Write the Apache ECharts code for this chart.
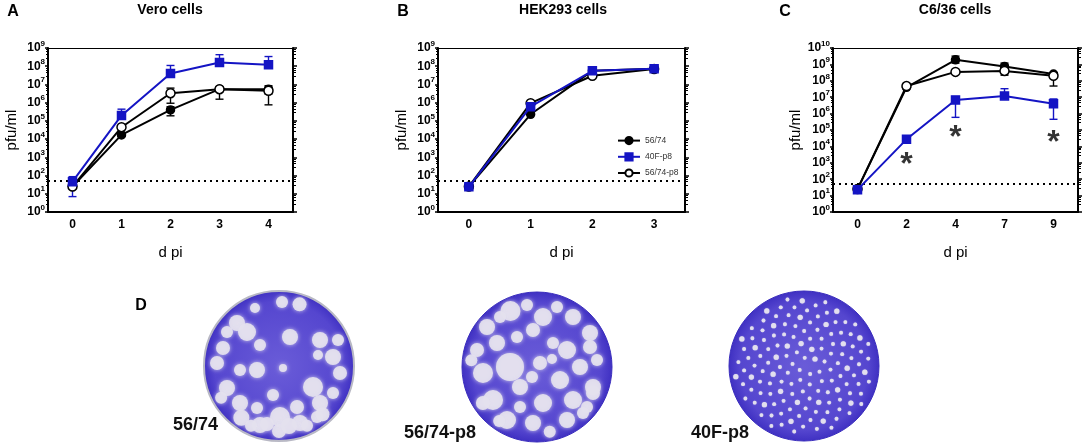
<!DOCTYPE html>
<html><head><meta charset="utf-8">
<script src="https://cdn.jsdelivr.net/npm/echarts@6/dist/echarts.min.js"></script>
<style>html,body{margin:0;padding:0;background:#fff}#c{width:1084px;height:447px}</style>
</head><body><div id="c"></div><script>
// ---------- data ----------
const seriesNames = ['56/74', '40F-p8', '56/74-p8'];
const daysA = ['0', '1', '2', '3', '4'];
const daysB = ['0', '1', '2', '3'];
const daysC = ['0', '2', '4', '7', '9'];
const detectionLimit = 50;

// Panel A: Vero cells (pfu/ml)
const veroWT      = [25, 1.7e4, 4e5, 5.5e6, 5.5e6];
const veroWTLow   = [25, 1.4e4, 1.9e5, 1.55e6, 3e6];
const veroWTHigh  = [25, 2e4, 6e5, 7.5e6, 8.5e6];
const veroF       = [46, 2e5, 4e7, 1.6e8, 1.2e8];
const veroFLow    = [7, 1.5e5, 3e7, 1.2e8, 1e8];
const veroFHigh   = [87, 4.4e5, 1.1e8, 4.3e8, 3.4e8];
const veroP8      = [25, 4.5e4, 3.3e6, 5.5e6, 4.5e6];
const veroP8Low   = [25, 4e4, 9.3e5, 4e6, 7.6e5];
const veroP8High  = [25, 5e4, 6.3e6, 6.5e6, 7e6];

// Panel B: HEK293 cells
const hekWT  = [25, 2.3e5, 5.6e7, 7.2e7];
const hekF   = [24, 6e5, 5.6e7, 7.2e7];
const hekP8  = [25, 9.4e5, 3e7, 7e7];

// Panel C: C6/36 cells
const c636WT      = [25, 4e7, 1.9e9, 7.5e8, 2.6e8];
const c636WTLow   = [25, 3.5e7, 1.2e9, 5.5e8, 2.2e8];
const c636WTHigh  = [25, 5e7, 3.2e9, 1.2e9, 3.2e8];
const c636F       = [23, 2.7e4, 6.7e6, 1.2e7, 4e6];
const c636FLow    = [23, 2.3e4, 5.9e5, 9e6, 4.5e5];
const c636FHigh   = [23, 3.1e4, 1.1e7, 3.3e7, 7.8e6];
const c636P8      = [25, 4.8e7, 3.5e8, 4e8, 2e8];
const c636P8Low   = [25, 4e7, 2.8e8, 2.2e8, 4.8e7];
const c636P8High  = [25, 5.5e7, 4e8, 5.5e8, 2.6e8];

// significance markers in panel C (category index, y position)
const starIdx = [1, 2, 4];
const starPos = [2.2e3, 1e5, 5e4];

// axis maxima
const yMaxA = 1e9, yMaxC = 1e10;

// ---------- styling ----------
const BLUE = '#1414c4';
const FONT = 'Liberation Sans, Arial, sans-serif';
const styles = {
  '56/74':   {color: '#000', symbol: 'circle', size: 8, fill: '#000'},
  '40F-p8':  {color: BLUE, symbol: 'rect', size: 8, fill: BLUE},
  '56/74-p8':{color: '#000', symbol: 'circle', size: 9, fill: '#fff'}
};

function supLabel(v) {
  const e = Math.round(Math.log10(v));
  return '{b|10}{s|' + e + '}';
}
const richY = {
  b: {fontSize: 12, fontWeight: 'bold', fontFamily: FONT, color: '#000'},
  s: {fontSize: 8, fontWeight: 'bold', fontFamily: FONT, color: '#000', verticalAlign: 'top', padding: [0, 0, 9, 0]}
};

const grids = [
  {left: 48, top: 48, width: 245, height: 164},
  {left: 438, top: 48, width: 247, height: 164},
  {left: 833, top: 48, width: 245, height: 164}
];
const cats = [daysA, daysB, daysC];
const ymax = [yMaxA, yMaxA, yMaxC];

const xAxis = [], yAxis = [];
cats.forEach((c, i) => {
  xAxis.push({
    type: 'category', data: c, gridIndex: i, position: 'bottom',
    name: 'd pi', nameLocation: 'middle', nameGap: 33,
    nameTextStyle: {fontSize: 15, fontFamily: FONT, color: '#000'},
    axisLine: {lineStyle: {color: '#000', width: 2}},
    axisTick: {alignWithLabel: true, length: 4, lineStyle: {color: '#000', width: 1.5}},
    axisLabel: {fontSize: 12, fontWeight: 'bold', fontFamily: FONT, color: '#000', margin: 7},
    splitLine: {show: false}
  });
  xAxis.push({
    type: 'category', data: c, gridIndex: i, position: 'top',
    axisLine: {lineStyle: {color: '#000', width: 1}},
    axisTick: {alignWithLabel: true, length: 5, lineStyle: {color: '#000', width: 1.2}},
    axisLabel: {show: false}, splitLine: {show: false}
  });
  const decades = Math.round(Math.log10(ymax[i]));
  yAxis.push({
    type: 'log', logBase: 10, min: 1, max: ymax[i], interval: 1, splitNumber: decades, gridIndex: i,
    name: 'pfu/ml', nameLocation: 'middle', nameGap: 29, nameRotate: 90,
    nameTextStyle: {fontSize: 15, fontFamily: FONT, color: '#000'},
    axisLine: {show: true, lineStyle: {color: '#000', width: 2}},
    axisTick: {show: true, length: 3, lineStyle: {color: '#000', width: 1.5}},
    minorTick: {show: true, splitNumber: 5, length: 2, lineStyle: {color: '#000', width: 1}},
    axisLabel: {formatter: supLabel, rich: richY, margin: 3},
    splitLine: {show: false}
  });
  yAxis.push({
    type: 'log', logBase: 10, min: 1, max: ymax[i], interval: 1, splitNumber: decades, gridIndex: i, position: 'right',
    axisLine: {show: true, lineStyle: {color: '#000', width: 2}},
    axisTick: {show: true, length: 4, lineStyle: {color: '#000', width: 1.5}},
    minorTick: {show: true, splitNumber: 5, length: 3, lineStyle: {color: '#000', width: 1}},
    axisLabel: {show: false}, splitLine: {show: false}
  });
});

function lineSeries(name, data, gi, withLimit, z) {
  const st = styles[name];
  const s = {
    name: name, type: 'line', data: data,
    xAxisIndex: gi * 2, yAxisIndex: gi * 2,
    symbol: st.symbol, symbolSize: st.size, showSymbol: true,
    lineStyle: {color: st.color, width: 2},
    itemStyle: {color: st.fill, borderColor: st.color, borderWidth: 1.5},
    z: z, animation: false
  };
  if (withLimit) {
    s.markLine = {
      silent: true, symbol: 'none', animation: false,
      label: {show: false},
      lineStyle: {color: '#000', type: [2, 4], width: 2},
      data: [{yAxis: detectionLimit}]
    };
  }
  return s;
}

function errSeries(name, lo, hi, gi) {
  const color = styles[name].color;
  const data = [];
  lo.forEach((v, i) => { if (hi[i] !== v) data.push([i, v, hi[i]]); });
  return {
    type: 'custom', xAxisIndex: gi * 2, yAxisIndex: gi * 2, z: 1, animation: false,
    encode: {x: 0, y: [1, 2]}, data: data, silent: true,
    renderItem: function (params, api) {
      const x = api.value(0);
      const p1 = api.coord([x, api.value(1)]);
      const p2 = api.coord([x, api.value(2)]);
      const w = 4, st = {stroke: color, lineWidth: 1.4};
      return {type: 'group', children: [
        {type: 'line', shape: {x1: p1[0], y1: p1[1], x2: p2[0], y2: p2[1]}, style: st},
        {type: 'line', shape: {x1: p1[0] - w, y1: p1[1], x2: p1[0] + w, y2: p1[1]}, style: st},
        {type: 'line', shape: {x1: p2[0] - w, y1: p2[1], x2: p2[0] + w, y2: p2[1]}, style: st}
      ]};
    }
  };
}

const series = [
  errSeries('56/74', veroWTLow, veroWTHigh, 0),
  errSeries('56/74-p8', veroP8Low, veroP8High, 0),
  errSeries('40F-p8', veroFLow, veroFHigh, 0),
  lineSeries('56/74', veroWT, 0, true, 3),
  lineSeries('56/74-p8', veroP8, 0, false, 4),
  lineSeries('40F-p8', veroF, 0, false, 5),

  lineSeries('56/74', hekWT, 1, true, 3),
  lineSeries('56/74-p8', hekP8, 1, false, 4),
  lineSeries('40F-p8', hekF, 1, false, 5),

  errSeries('56/74', c636WTLow, c636WTHigh, 2),
  errSeries('56/74-p8', c636P8Low, c636P8High, 2),
  errSeries('40F-p8', c636FLow, c636FHigh, 2),
  lineSeries('56/74', c636WT, 2, true, 3),
  lineSeries('56/74-p8', c636P8, 2, false, 4),
  lineSeries('40F-p8', c636F, 2, false, 5),
  {
    type: 'scatter', xAxisIndex: 4, yAxisIndex: 4, symbolSize: 0, silent: true, animation: false,
    data: starIdx.map((d, i) => [d, starPos[i]]),
    label: {show: true, position: 'inside', formatter: '*', fontSize: 32, fontWeight: 'bold', fontFamily: FONT,
            color: '#000', offset: [0, 8]}
  }
];

// ---------- plaque photos (decorative) ----------
const dishes = [
  {cx: 279, cy: 366, label: '56/74', lx: 173, ly: 427, rim: true, blobs: [
    [3,-64,6],[21,-63,7],[-24,-58,5],[-42,-43,8],[-32,-34,9],[-52,-34,6],[11,-29,8],[41,-26,8],
    [59,-26,6],[-56,-18,7],[-19,-21,6],[54,-9,8],[39,-11,5],[-62,-3,7],[-22,4,8],[-39,4,6],
    [4,2,4],[34,21,10],[61,7,7],[-52,22,8],[-62,34,6],[-39,37,8],[-22,42,6],[-6,29,6],
    [18,41,7],[41,37,8],[1,51,10],[21,57,8],[-19,59,8],[38,51,6],[54,27,6],[-40,55,8],
    [45,50,7],[0,66,7],[-30,64,6],[30,64,6],[-12,58,7],[10,60,8]]},
  {cx: 537, cy: 367, label: '56/74-p8', lx: 404, ly: 435, rim: false, blobs: [
    [-27,-57,10],[6,-50,9],[-50,-40,8],[-4,-37,7],[36,-50,8],[-40,-24,8],[-20,-30,6],[-60,-17,7],
    [30,-17,9],[53,-34,8],[-27,0,14],[-54,6,10],[3,-4,7],[43,0,8],[23,13,9],[-44,33,10],
    [-17,20,8],[6,36,9],[36,33,9],[-60,40,7],[-30,53,9],[-4,56,8],[30,53,8],[56,26,7],
    [60,-7,6],[53,-20,7],[56,20,8],[50,40,6],[-67,-7,6],[-37,-50,6],[16,-24,6],[-17,40,6],
    [46,46,6],[13,66,6],[-44,63,6],[20,-60,6],[-10,-62,6],[-5,10,6],[15,-8,5]]},
  {cx: 804, cy: 366, label: '40F-p8', lx: 691, ly: 435, rim: false, blobs: null}
];

const graphic = [];
dishes.forEach(d => {
  graphic.push({type: 'circle', shape: {cx: d.cx, cy: d.cy, r: 75}, z: 1,
    style: {fill: {type: 'radial', x: 0.5, y: 0.5, r: 0.5,
      colorStops: [{offset: 0, color: '#6a5cd8'}, {offset: 0.85, color: '#5546cf'}, {offset: 1, color: '#3f30c2'}]},
      stroke: d.rim ? '#b8b8c4' : '#3a2dbd', lineWidth: d.rim ? 2 : 1}});
  let blobs = d.blobs;
  if (!blobs) {
    blobs = [];
    const N = 140;
    for (let i = 1; i <= N; i++) {
      const rr = 69 * Math.sqrt(i / N), th = i * 2.39996;
      blobs.push([rr * Math.cos(th), rr * Math.sin(th), (i % 5 === 0) ? 2.6 : 1.9]);
    }
  }
  blobs.forEach(b => {
    let dx = b[0], dy = b[1];
    const dist = Math.sqrt(dx * dx + dy * dy);
    const lim = 72 - b[2];
    if (dist > lim) { dx *= lim / dist; dy *= lim / dist; }
    graphic.push({type: 'circle', shape: {cx: d.cx + dx, cy: d.cy + dy, r: b[2]}, z: 2, silent: true,
      style: {fill: 'rgba(228,225,238,0.93)', shadowBlur: d.blobs ? 4 : 1, shadowColor: 'rgba(225,222,238,0.9)'}});
  });
  graphic.push({type: 'text', left: d.lx, top: d.ly - 11, z: 5,
    style: {text: d.label, fontSize: 18, fontWeight: 'bold', fontFamily: FONT, fill: '#111'}});
});

const texts = [
  ['A', 13, 12, 16], ['B', 403, 12, 16], ['C', 785, 12, 16], ['D', 141, 306, 16],
  ['Vero cells', 170, 10, 14], ['HEK293 cells', 563, 10, 14], ['C6/36 cells', 955, 10, 14]
];
texts.forEach(t => {
  graphic.push({type: 'text', x: t[1], y: t[2], z: 5,
    style: {text: t[0], fontSize: t[3], fontWeight: 'bold', fontFamily: FONT, fill: '#000',
            align: 'center', verticalAlign: 'middle'}});
});

const chart = echarts.init(document.getElementById('c'));
chart.setOption({
  animation: false,
  backgroundColor: '#fff',
  grid: grids,
  xAxis: xAxis,
  yAxis: yAxis,
  legend: {
    data: seriesNames, orient: 'vertical', left: 612, top: 131, itemGap: 7,
    itemWidth: 22, itemHeight: 9, selectedMode: false,
    textStyle: {fontSize: 8.5, fontFamily: FONT, color: '#333'}
  },
  series: series,
  graphic: graphic
});
</script></body></html>
